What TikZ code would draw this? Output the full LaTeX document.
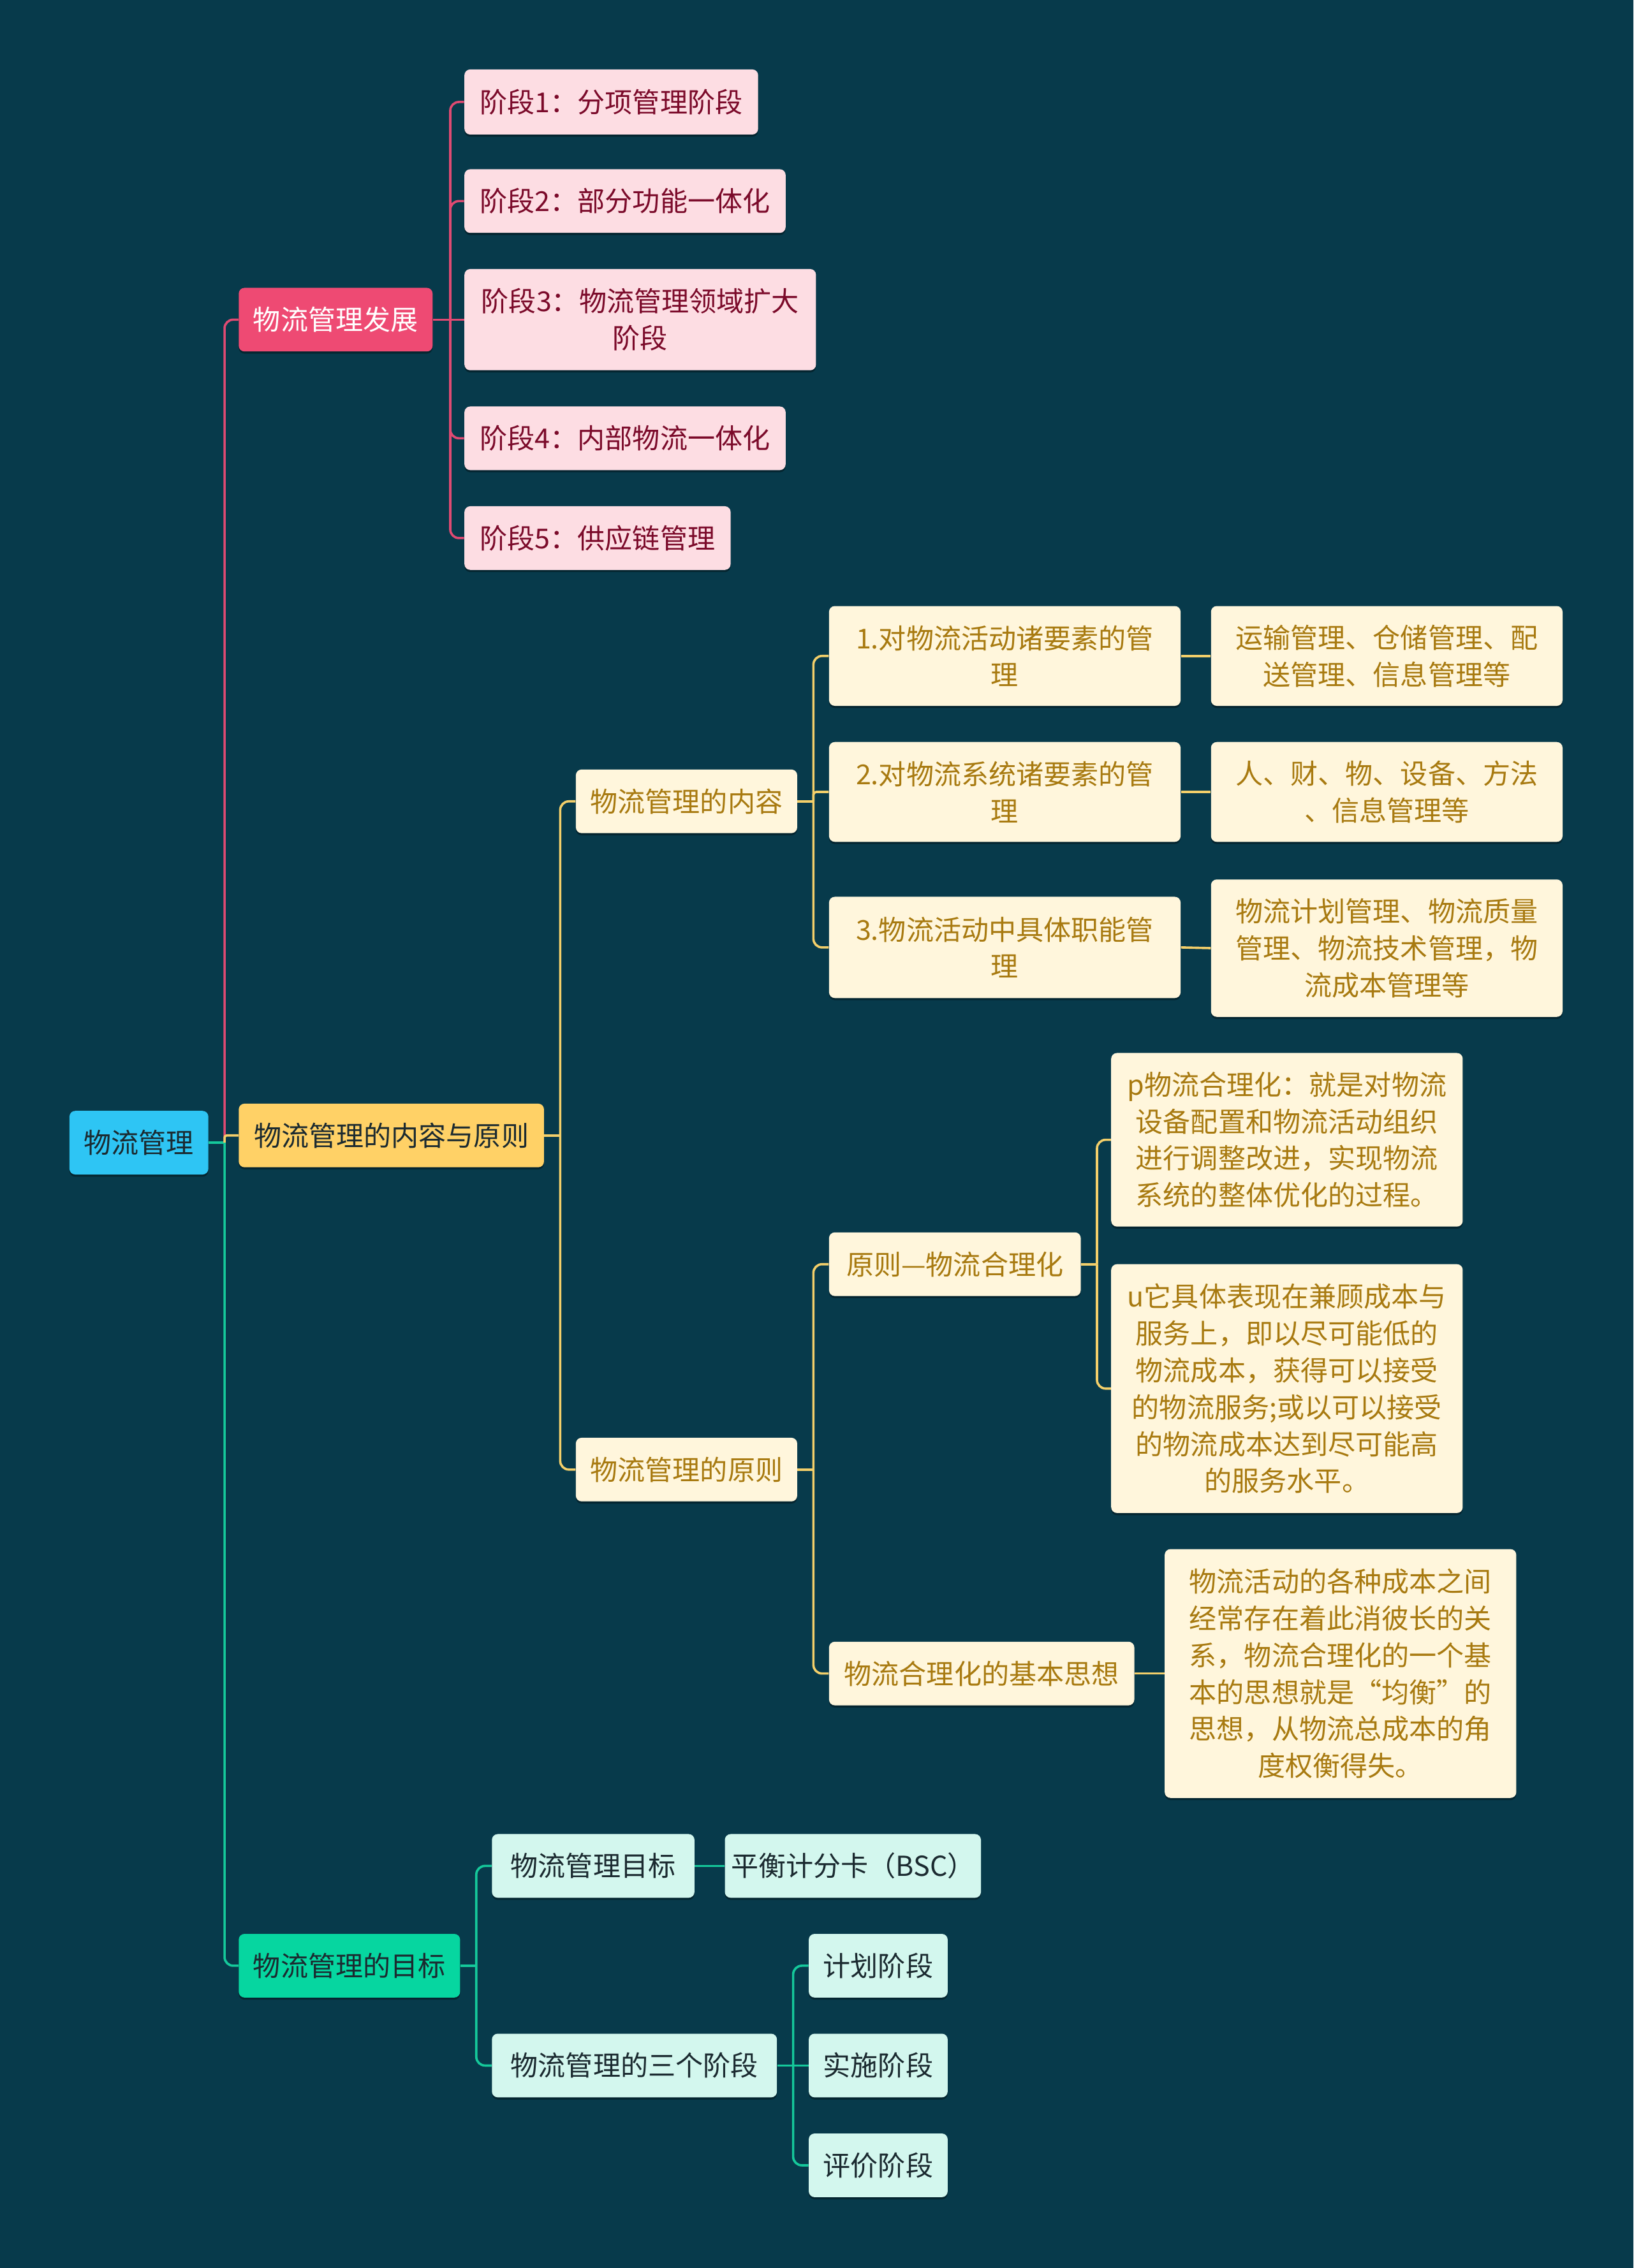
\documentclass[tikz,border=0pt]{standalone}
\usepackage{fontspec}
\setmainfont{Noto Sans CJK SC}
\usetikzlibrary{shadows}
\definecolor{bgc}{HTML}{073A4B}
\definecolor{rootc}{HTML}{2EC5F4}
\definecolor{pinkc}{HTML}{EE4A73}
\definecolor{pinkline}{HTML}{DF4A72}
\definecolor{pinklt}{HTML}{FDDDE3}
\definecolor{pinktx}{HTML}{7B0A2A}
\definecolor{yelc}{HTML}{FFD166}
\definecolor{yelline}{HTML}{F3CF6A}
\definecolor{creamc}{HTML}{FFF6DC}
\definecolor{creamtx}{HTML}{A87A10}
\definecolor{grnc}{HTML}{06D6A0}
\definecolor{grnline}{HTML}{15C99B}
\definecolor{mintc}{HTML}{D3F7EE}
\definecolor{darktx}{HTML}{1B2A30}
\tikzset{
  box/.style={rounded corners=4pt, inner sep=0pt, align=center,
    drop shadow={shadow xshift=0pt, shadow yshift=-1.5pt, opacity=0.35, fill=black}},
  rootbox/.style={box, fill=rootc, text=darktx},
  devbox/.style={box, fill=pinkc, text=white},
  crbox/.style={box, fill=yelc, text=darktx},
  goalbox/.style={box, fill=grnc, text=darktx},
  pinkbox/.style={box, fill=pinklt, text=pinktx},
  creambox/.style={box, fill=creamc, text=creamtx},
  mintbox/.style={box, fill=mintc, text=darktx},
  pl/.style={draw=pinkline, line width=1.6pt, rounded corners=6pt},
  yl/.style={draw=yelline, line width=1.6pt, rounded corners=6pt},
  gl/.style={draw=grnline, line width=1.6pt, rounded corners=6pt},
}
\begin{document}
\begin{tikzpicture}[x=1pt,y=-1pt, font=\fontsize{19}{25.5}\selectfont]
\fill[bgc] (0,0) rectangle (1129,1568);
\useasboundingbox (0,0) rectangle (1129,1568);

% root and level 1
\node[rootbox, minimum width=96, minimum height=44] (root) at (96,790) {物流管理};
\node[devbox, minimum width=134, minimum height=44] (dev) at (232,221) {物流管理发展};
\node[crbox, minimum width=211, minimum height=44] (cr) at (270.5,785) {物流管理的内容与原则};
\node[goalbox, minimum width=153, minimum height=44] (goal) at (241.5,1359) {物流管理的目标};

% pink branch
\node[pinkbox, minimum width=203, minimum height=45] (s1) at (422.5,70.5) {阶段1：分项管理阶段};
\node[pinkbox, minimum width=222, minimum height=44] (s2) at (432,139) {阶段2：部分功能一体化};
\node[pinkbox, minimum width=243, minimum height=70] (s3) at (442.5,221) {阶段3：物流管理领域扩大\\阶段};
\node[pinkbox, minimum width=222, minimum height=44] (s4) at (432,303) {阶段4：内部物流一体化};
\node[pinkbox, minimum width=184, minimum height=44] (s5) at (413,372) {阶段5：供应链管理};

% yellow branch
\node[creambox, minimum width=153, minimum height=44] (nr) at (474.5,554) {物流管理的内容};
\node[creambox, minimum width=153, minimum height=44] (yz) at (474.5,1016) {物流管理的原则};

\node[creambox, minimum width=243, minimum height=69] (c1) at (694.5,453.5) {1.对物流活动诸要素的管\\理};
\node[creambox, minimum width=243, minimum height=69] (c2) at (694.5,547.5) {2.对物流系统诸要素的管\\理};
\node[creambox, minimum width=243, minimum height=70] (c3) at (694.5,655) {3.物流活动中具体职能管\\理};
\node[creambox, minimum width=243, minimum height=69] (d1) at (958.5,453.5) {运输管理、仓储管理、配\\送管理、信息管理等};
\node[creambox, minimum width=243, minimum height=69] (d2) at (958.5,547.5) {人、财、物、设备、方法\\、信息管理等};
\node[creambox, minimum width=243, minimum height=95] (d3) at (958.5,655.5) {物流计划管理、物流质量\\管理、物流技术管理，物\\流成本管理等};

\node[creambox, minimum width=174, minimum height=44] (r1) at (660,874) {原则—物流合理化};
\node[creambox, minimum width=211, minimum height=44] (r2) at (678.5,1157) {物流合理化的基本思想};
\node[creambox, minimum width=243, minimum height=120] (p1) at (889.5,788) {p物流合理化：就是对物流\\设备配置和物流活动组织\\进行调整改进，实现物流\\系统的整体优化的过程。};
\node[creambox, minimum width=243, minimum height=172] (p2) at (889.5,960) {u它具体表现在兼顾成本与\\服务上，即以尽可能低的\\物流成本，获得可以接受\\的物流服务;或以可以接受\\的物流成本达到尽可能高\\的服务水平。};
\node[creambox, minimum width=243, minimum height=172] (t1) at (926.5,1157) {物流活动的各种成本之间\\经常存在着此消彼长的关\\系，物流合理化的一个基\\本的思想就是“均衡”的\\思想，从物流总成本的角\\度权衡得失。};

% green branch
\node[mintbox, minimum width=140, minimum height=44] (g1) at (410,1290) {物流管理目标};
\node[mintbox, minimum width=197, minimum height=44] (g2) at (438.5,1428) {物流管理的三个阶段};
\node[mintbox, minimum width=177, minimum height=44] (bsc) at (589.5,1290) {平衡计分卡（BSC）};
\node[mintbox, minimum width=96, minimum height=44] (k1) at (607,1359) {计划阶段};
\node[mintbox, minimum width=96, minimum height=44] (k2) at (607,1428) {实施阶段};
\node[mintbox, minimum width=96, minimum height=44] (k3) at (607,1497) {评价阶段};

% root connectors
\draw[gl, sharp corners] (root.east) -- ++(11,0);
\draw[pl] (root.east) ++(11,0) |- (dev.west);
\draw[yl, rounded corners=1.5pt] (root.east) ++(11,0) |- (cr.west);
\draw[gl] (root.east) ++(11,0) |- (goal.west);

% pink
\draw[pl] (dev.east) -- (s3.west);
\foreach \n in {s1,s2,s4,s5}
  \draw[pl] (dev.east) ++(12,0) |- (\n.west);

% yellow
\draw[yl, sharp corners] (cr.east) -- ++(11,0);
\foreach \n in {nr,yz}
  \draw[yl] (cr.east) ++(11,0) |- (\n.west);
\draw[yl, sharp corners] (nr.east) -- ++(11,0);
\foreach \n in {c1,c3}
  \draw[yl] (nr.east) ++(11,0) |- (\n.west);
\draw[yl, rounded corners=2pt] (nr.east) ++(11,0) |- (c2.west);
\draw[yl] (c1.east) -- (d1.west);
\draw[yl] (c2.east) -- (d2.west);
\draw[yl] (c3.east) -- (d3.west);
\draw[yl, sharp corners] (yz.east) -- ++(11,0);
\foreach \n in {r1,r2}
  \draw[yl] (yz.east) ++(11,0) |- (\n.west);
\draw[yl, sharp corners] (r1.east) -- ++(11,0);
\foreach \n in {p1,p2}
  \draw[yl] (r1.east) ++(11,0) |- (\n.west);
\draw[yl] (r2.east) -- (t1.west);

% green
\draw[gl, sharp corners] (goal.east) -- ++(11,0);
\foreach \n in {g1,g2}
  \draw[gl] (goal.east) ++(11,0) |- (\n.west);
\draw[gl] (g1.east) -- (bsc.west);
\draw[gl] (g2.east) -- (k2.west);
\foreach \n in {k1,k3}
  \draw[gl] (g2.east) ++(11,0) |- (\n.west);
\end{tikzpicture}
\end{document}
